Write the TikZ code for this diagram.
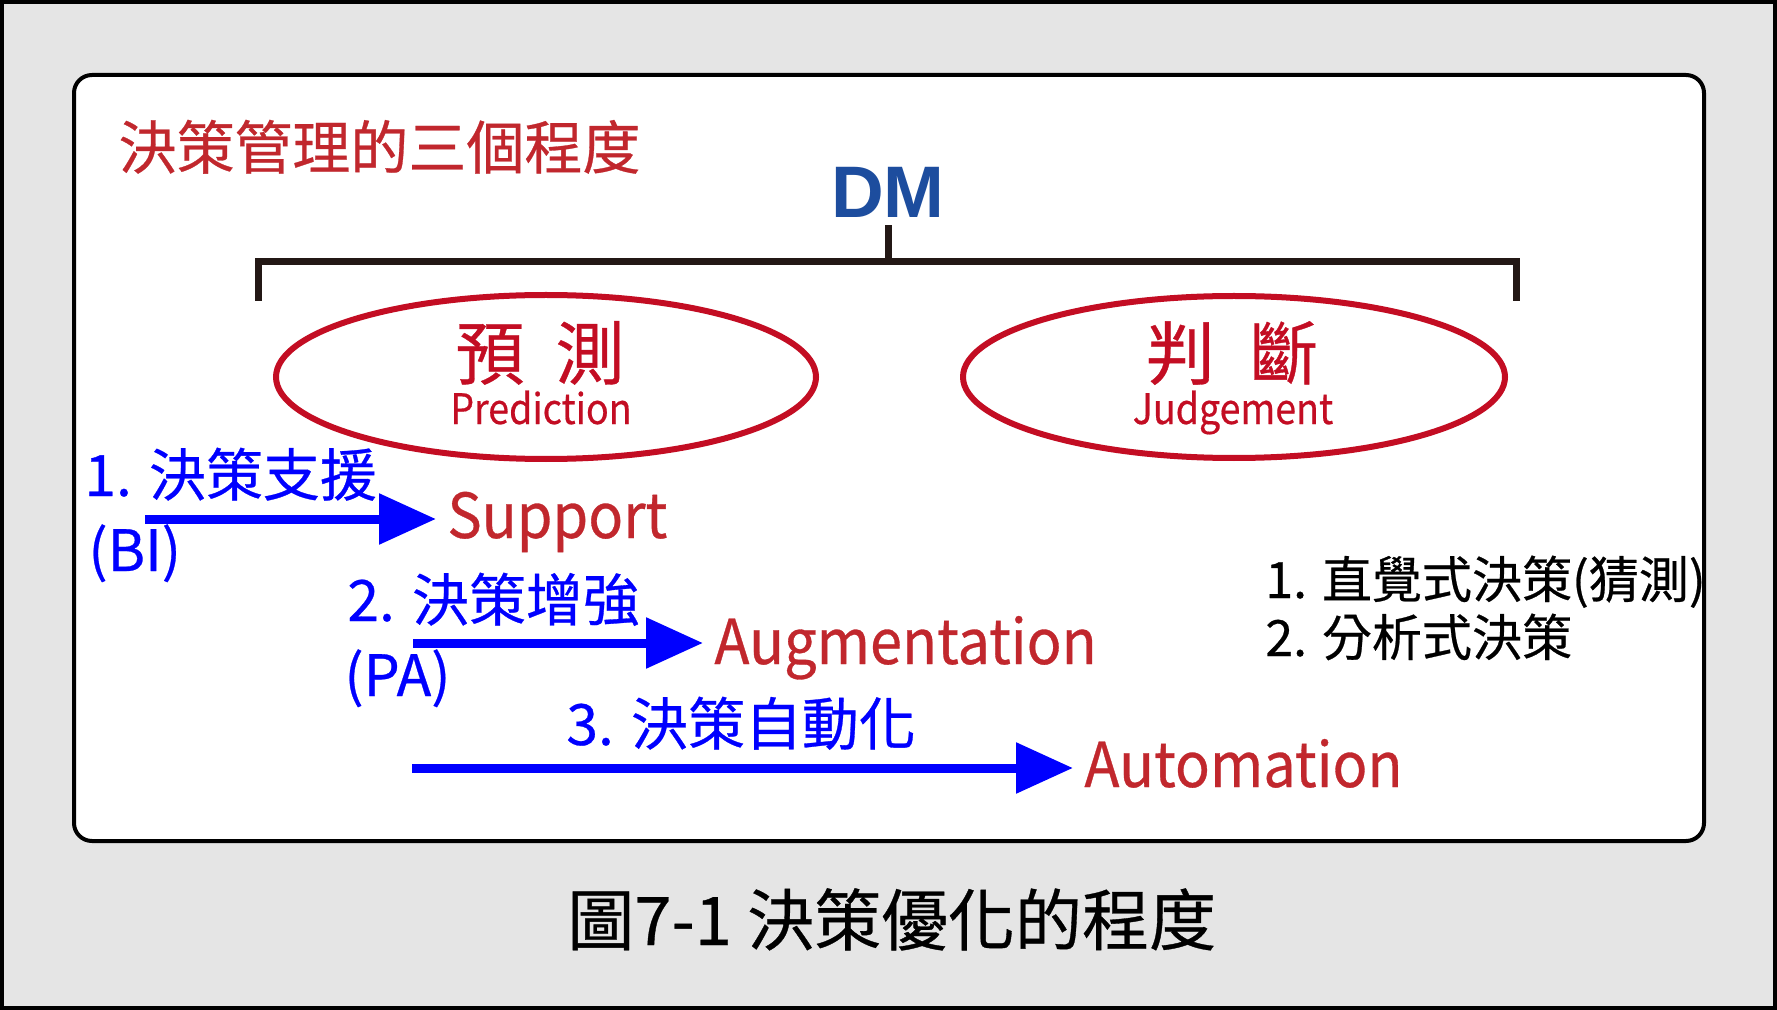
\documentclass[tikz,border=0pt]{standalone}
\usepackage{fontspec}
\setmainfont{Noto Sans CJK TC}[FakeBold=0.5]
\newfontfamily\dmfont{Liberation Sans}
\newfontfamily\narrowA{Noto Sans CJK TC}[FakeStretch=0.93,FakeBold=0.5]
\newfontfamily\narrowB{Noto Sans CJK TC}[FakeStretch=0.895,FakeBold=0.4]
\usetikzlibrary{arrows.meta,shapes.geometric}
\definecolor{bggray}{HTML}{E5E5E5}
\definecolor{titlered}{HTML}{C1272D}
\definecolor{ellred}{HTML}{C30D23}
\definecolor{arrblue}{HTML}{0000FF}
\definecolor{dmblue}{HTML}{1D4D9E}
\definecolor{brkcol}{HTML}{231815}
\tikzset{
  txt/.style={inner sep=0pt, anchor=base west},
  titlefont/.style={font=\fontsize{29pt}{34pt}\selectfont},
  bluelbl/.style={txt, text=arrblue, font=\fontsize{28.5pt}{33pt}\selectfont},
  redlbl/.style={txt, inner xsep=5.5pt, text=titlered, font=\narrowA\fontsize{31pt}{36pt}\selectfont},
  blacklbl/.style={txt, text=black, font=\fontsize{25pt}{30pt}\selectfont},
  ellbox/.style={ellipse, draw=ellred, line width=3pt, inner sep=0pt},
  cjkbig/.style={inner sep=0pt, anchor=base, text=ellred, font=\fontsize{34.5pt}{40pt}\selectfont},
  ensmall/.style={inner sep=0pt, anchor=base, text=ellred, font=\narrowB\fontsize{21pt}{25pt}\selectfont},
  brk/.style={draw=brkcol, line width=3.5pt, line join=miter},
  arr/.style={draw=arrblue, line width=4.5pt, -{Triangle[length=28.5pt,width=24.5pt]}}
}
\begin{document}
\begin{tikzpicture}[x=0.5pt,y=-0.5pt]
\useasboundingbox (0,0) rectangle (1777,1010);
\fill[bggray] (0,0) rectangle (1777,1010);
\draw[line width=2.2pt] (2.2,2.2) rectangle (1774.8,1007.8);
\draw[fill=white, line width=2pt, rounded corners=9pt] (74,75) rectangle (1704,841);

% title
\node[txt, titlefont, text=titlered] (title) at (118,169) {決策管理的三個程度};

% DM and bracket
\node[inner sep=3.5pt, anchor=base, text=dmblue, font=\dmfont\bfseries\fontsize{36.5pt}{40pt}\selectfont] (dm) at (888,218) {DM};
\coordinate (bj) at (888,262);
\coordinate (bl) at (258,301);
\coordinate (br) at (1516,301);
\draw[brk] (dm.south) -- (bj);
\draw[brk] (bl) |- (br |- bj) -- (br);

% ellipses
\node[ellbox, minimum width=270pt, minimum height=82pt] (pred) at (546,377) {};
\node[ellbox, minimum width=271pt, minimum height=81pt] (judg) at (1234,377) {};
\node[cjkbig] (predz) at (540,379) {預\hspace{0.45em}測};
\node[ensmall] (prede) at (541,424) {Prediction};
\node[cjkbig] (judgz) at (1232,379) {判\hspace{0.5em}斷};
\node[ensmall] (judge) at (1233,424) {Judgement};

% levels
\node[bluelbl] (l1) at (84,496) {1. 決策支援};
\node[bluelbl] (bi) at (88,571) {(BI)};
\node[redlbl] (sup) at (436,538) {Support};
\coordinate (a1) at (145,519);
\draw[arr] (a1) -- (a1 -| sup.west);

\node[bluelbl] (l2) at (347,621) {2. 決策增強};
\node[bluelbl] (pa) at (344,696) {(PA)};
\node[redlbl] (aug) at (703,664) {Augmentation};
\coordinate (a2) at (413,643);
\draw[arr] (a2) -- (a2 -| aug.west);

\node[bluelbl] (l3) at (566,745) {3. 決策自動化};
\node[redlbl] (aut) at (1073,787) {Automation};
\coordinate (a3) at (412,768);
\draw[arr] (a3) -- (a3 -| aut.west);

% right list
\node[blacklbl] (r1) at (1265,598) {1. 直覺式決策(猜測)};
\node[blacklbl] (r2) at (1265,656) {2. 分析式決策};

% caption
\node[txt, text=black, font=\fontsize{33.5pt}{38pt}\selectfont] (cap) at (567,945) {圖7-1 決策優化的程度};
\end{tikzpicture}
\end{document}
